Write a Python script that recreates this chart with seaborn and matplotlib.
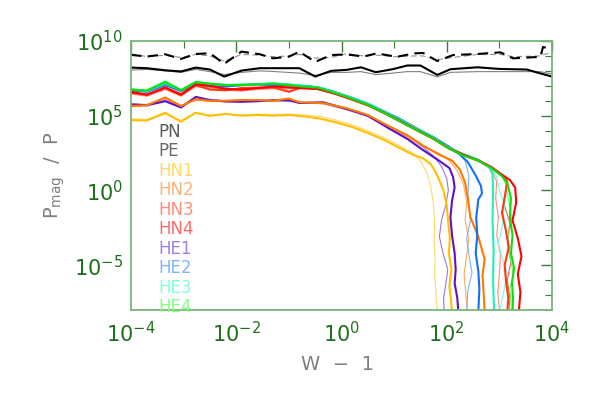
import numpy as np
import pandas as pd
import seaborn as sns
import matplotlib
matplotlib.use('Agg')
import matplotlib.pyplot as plt
from matplotlib.ticker import FixedLocator, LogFormatterMathtext, NullFormatter

# all values are log10(W - 1) and log10(Pmag / P)
w_left = [-4.0, -3.7, -3.35, -3.05, -2.77, -2.5, -2.2, -1.9, -1.6, -1.3, -1.0]
w_mid = [-0.75, -0.45, -0.15, 0.15, 0.5, 0.8, 1.1, 1.45, 1.75, 2.05]

# PN / PE (black and grey)
pn_w = [-4.0, -3.7, -3.35, -3.05, -2.77, -2.5, -2.23, -1.9, -1.55, -1.25, -0.8, -0.5, -0.2,
        0.1, 0.37, 0.65, 0.97, 1.25, 1.5, 1.82, 2.07, 2.58, 3.0, 3.52, 3.77, 4.0]
pn_thick = [8.22, 8.18, 8.04, 7.96, 8.22, 8.09, 7.62, 8.02, 8.18, 8.18, 8.18, 7.62, 8.0,
            8.07, 8.24, 7.91, 8.11, 8.36, 8.36, 7.73, 8.11, 8.24, 8.13, 8.09, 7.84, 7.62]
pn_thin = [8.05, 8.1, 8.0, 7.9, 8.1, 7.95, 7.75, 7.9, 8.0, 7.95, 7.85, 7.7, 7.9,
           7.9, 7.95, 7.75, 7.85, 7.95, 7.95, 7.6, 7.9, 7.95, 7.95, 7.95, 7.95, 7.8]
pe_w = [-4.0, -3.7, -3.35, -3.05, -2.77, -2.5, -2.23, -1.9, -1.55, -1.3, -1.0, -0.8, -0.5, -0.2,
        0.1, 0.42, 0.67, 1.05, 1.38, 1.55, 1.82, 2.12, 2.58, 3.02, 3.26, 3.78, 3.83, 4.0]
pe_thick = [9.07, 8.96, 9.11, 8.8, 9.13, 9.18, 8.47, 9.29, 9.11, 8.84, 8.95, 9.28, 8.6, 9.06,
            9.1, 8.96, 9.17, 8.94, 9.17, 9.2, 8.66, 9.06, 9.13, 9.24, 8.84, 8.94, 9.6, 9.45]
pe_thin = [9.15, 8.95, 9.05, 8.9, 9.1, 9.0, 8.65, 9.1, 9.05, 8.95, 9.0, 9.1, 8.85, 8.9,
           9.15, 9.0, 9.05, 8.95, 9.0, 9.0, 8.75, 8.9, 9.1, 9.1, 8.95, 9.0, 9.1, 9.2]

# HN1 (gold)
hn1_w = w_left + [-0.7, -0.4, -0.1, 0.2, 0.5, 0.8, 1.1, 1.35, 1.55, 1.7, 1.8, 1.88, 1.94,
                  2.0, 2.03, 2.06, 2.04, 2.09, 2.07, 2.05, 2.08, 2.1]
hn1_thick = [4.7, 4.68, 5.2, 4.6, 5.2, 4.98, 5.12, 5.0, 5.05, 5.0, 5.05,
             4.95, 4.8, 4.55, 4.25, 3.85, 3.4, 2.85, 2.4, 2.15, 1.75, 1.15, 0.5, 0.0,
             -1.0, -2.2, -3.2, -4.2, -5.3, -5.8, -6.4, -7.3, -8.1]
hn1t_w = w_left + [-0.7, -0.4, -0.1, 0.2, 0.5, 0.8, 1.1, 1.35, 1.5, 1.62, 1.7, 1.75, 1.77,
                   1.76, 1.78, 1.77, 1.79, 1.8, 1.83]
hn1_thin = [4.8, 4.75, 5.1, 4.7, 5.15, 5.05, 5.1, 5.05, 5.1, 5.08, 5.1,
            5.05, 4.95, 4.7, 4.4, 4.0, 3.55, 3.0, 2.5, 2.0, 1.2, 0.2, -1.0, -2.5,
            -3.5, -4.6, -5.6, -6.6, -7.4, -8.1]

# HN2 (orange)
hn2_w = w_left + [-0.8, -0.35, 0.1, 0.5, 0.9, 1.25, 1.55, 1.85, 2.1, 2.25, 2.35, 2.4, 2.45,
                  2.6, 2.72, 2.68, 2.7, 2.72]
hn2_thick = [5.65, 5.7, 6.22, 5.65, 6.1, 6.0, 6.0, 6.05, 6.05, 6.0, 6.15,
             5.9, 5.85, 5.5, 5.05, 4.3, 3.7, 3.0, 2.4, 2.0, 1.4, 0.5, -0.5, -1.8,
             -3.1, -4.6, -5.7, -6.8, -8.1]
hn2t_w = w_left + [-0.8, -0.35, 0.1, 0.5, 0.9, 1.25, 1.55, 1.85, 2.05, 2.2, 2.32, 2.38,
                   2.35, 2.42, 2.37, 2.33, 2.36, 2.39]
hn2_thin = [5.6, 5.65, 6.15, 5.6, 6.05, 5.95, 5.95, 6.0, 6.0, 5.95, 6.05,
            5.85, 5.8, 5.45, 5.0, 4.25, 3.6, 2.95, 2.5, 2.0, 1.3, 0.4, -0.8,
            -2.0, -3.3, -4.5, -5.6, -6.8, -8.1]

# HN3 (red-orange) and HN4 (red)
hn3_w = w_left + w_mid + [2.3, 2.6, 2.85, 3.05, 3.15, 3.1, 3.05, 3.12, 3.18, 3.1, 3.13, 3.17, 3.15]
hn3_thick = [6.55, 6.42, 6.85, 6.45, 7.05, 6.75, 6.7, 6.85, 6.88, 6.9, 6.6,
             6.9, 6.8, 6.5, 6.15, 5.7, 5.2, 4.65, 4.0, 3.45, 2.8,
             2.4, 2.0, 1.55, 1.0, 0.6, -0.5, -1.5, -2.6, -3.8, -5.0, -6.2, -7.2, -8.1]
hn3t_w = w_left + w_mid + [2.3, 2.6, 2.85, 2.95, 2.93, 2.98, 2.95, 3.02, 3.0, 2.97, 3.0]
hn3_thin = [6.45, 6.3, 6.75, 6.3, 6.95, 6.8, 6.7, 6.65, 6.75, 6.8, 6.8,
            6.85, 6.75, 6.45, 6.1, 5.65, 5.15, 4.6, 3.95, 3.4, 2.75,
            2.35, 1.95, 1.4, 0.6, -0.5, -1.8, -3.0, -4.3, -5.6, -6.8, -8.1]
hn4_w = w_left + w_mid + [2.3, 2.6, 2.85, 3.05, 3.2, 3.3, 3.32, 3.25, 3.35, 3.42, 3.35, 3.4, 3.37]
hn4_thick = [6.6, 6.4, 6.9, 6.4, 7.1, 7.0, 6.8, 6.75, 6.85, 6.95, 6.9,
             6.85, 6.8, 6.52, 6.18, 5.72, 5.22, 4.68, 4.02, 3.48, 2.8,
             2.4, 2.0, 1.55, 1.05, 0.7, 0.2, -0.8, -2.0, -3.2, -4.4, -5.6, -6.8, -8.1]
hn4t_w = w_left + w_mid + [2.3, 2.6, 2.85, 3.05, 3.15, 3.08, 3.2, 3.15, 3.22, 3.15, 3.2, 3.18]
hn4_thin = [6.5, 6.35, 6.8, 6.35, 7.0, 6.9, 6.75, 6.7, 6.8, 6.85, 6.85,
            6.8, 6.75, 6.5, 6.15, 5.7, 5.2, 4.65, 4.0, 3.45, 2.8,
            2.4, 2.0, 1.55, 1.0, 0.4, -0.8, -2.2, -3.5, -4.8, -6.0, -7.2, -8.1]

# HE1 (purple)
he1_w = w_left + [-0.8, -0.35, 0.1, 0.5, 0.9, 1.25, 1.55, 1.85, 2.05, 2.12, 2.15, 2.1, 2.07,
                  2.1, 2.15, 2.17, 2.15, 2.2, 2.22]
he1_thick = [5.75, 5.7, 5.97, 5.55, 6.26, 6.04, 5.95, 5.93, 5.97, 6.04, 6.05,
             5.85, 5.9, 5.45, 5.0, 4.15, 3.45, 2.7, 2.0, 1.5, 0.9, 0.2, -0.7, -1.8,
             -3.0, -4.2, -5.3, -6.2, -7.2, -8.1]
he1t_w = w_left + [-0.8, -0.35, 0.1, 0.5, 0.9, 1.25, 1.55, 1.75, 1.9, 2.0, 2.03, 1.98, 1.9,
                   1.86, 1.93, 2.02, 1.98, 1.94, 1.95]
he1_thin = [5.8, 5.75, 6.05, 5.6, 6.2, 6.1, 6.0, 6.0, 6.05, 6.0, 5.95,
            5.9, 5.8, 5.4, 4.95, 4.2, 3.6, 2.9, 2.3, 1.6, 0.8, 0.0, -1.0, -2.0,
            -3.1, -4.2, -5.3, -6.3, -7.2, -8.1]

# HE2 (blue)
he2_w = w_left + w_mid + [2.25, 2.4, 2.55, 2.65, 2.67, 2.6, 2.56, 2.58, 2.55, 2.6, 2.62, 2.6]
he2_thick = [6.7, 6.6, 7.05, 6.65, 7.1, 7.0, 6.95, 7.05, 7.1, 7.05, 7.05,
             7.0, 6.9, 6.6, 6.25, 5.8, 5.3, 4.8, 4.1, 3.55, 2.9,
             2.4, 1.9, 1.0, 0.3, -0.2, -0.6, -1.8, -3.0, -4.2, -5.4, -6.6, -8.1]
he2t_w = w_left + w_mid + [2.2, 2.35, 2.42, 2.4, 2.45, 2.38, 2.42, 2.48, 2.4, 2.38]
he2_thin = [6.72, 6.62, 7.1, 6.68, 7.12, 7.05, 7.0, 7.0, 7.05, 7.1, 7.0,
            7.02, 6.92, 6.62, 6.28, 5.82, 5.32, 4.82, 4.15, 3.6, 2.95,
            2.6, 2.0, 1.0, -0.5, -2.0, -3.2, -4.3, -5.5, -6.7, -8.1]

# HE3 (cyan)
he3_w = w_left + w_mid + [2.3, 2.6, 2.8, 2.87, 2.88, 2.87, 2.89, 2.88, 2.9]
he3_thick = [6.75, 6.65, 7.15, 6.72, 7.2, 7.1, 7.05, 7.1, 7.1, 7.15, 7.1,
             7.0, 6.9, 6.6, 6.25, 5.8, 5.3, 4.75, 4.1, 3.55, 2.85,
             2.45, 2.05, 1.6, 1.1, 0.0, -2.0, -4.0, -6.0, -8.1]
he3t_w = w_left + w_mid + [2.3, 2.6, 2.85, 2.95, 3.0, 3.1, 3.05, 2.98, 3.05, 3.15, 3.1, 3.05, 3.0]
he3_thin = [6.8, 6.7, 7.35, 6.75, 7.3, 7.15, 7.1, 7.05, 7.15, 7.2, 7.1,
            7.05, 6.95, 6.65, 6.3, 5.85, 5.35, 4.8, 4.15, 3.6, 2.9,
            2.5, 2.1, 1.55, 0.9, 0.0, -1.0, -2.5, -3.5, -4.5, -5.5, -6.5, -7.3, -8.1]

# HE4 (green)
he4_w = w_left + w_mid + [2.3, 2.6, 2.85, 3.05, 3.15, 3.22, 3.2, 3.25, 3.22, 3.28, 3.24, 3.26, 3.25]
he4_thick = [6.75, 6.68, 7.25, 6.7, 7.25, 7.15, 7.05, 7.05, 7.1, 7.15, 7.05,
             6.95, 6.88, 6.55, 6.2, 5.72, 5.2, 4.65, 4.0, 3.45, 2.8,
             2.35, 2.0, 1.5, 0.95, 0.5, -0.5, -1.8, -3.0, -4.2, -5.2, -6.2, -7.2, -8.1]
he4t_w = w_left + w_mid + [2.3, 2.6, 2.85, 3.05, 3.12, 3.18, 3.24, 3.16, 3.2, 3.26, 3.2, 3.22, 3.23]
he4_thin = [6.8, 6.7, 7.3, 6.75, 7.2, 7.1, 7.1, 7.0, 7.15, 7.1, 7.0,
            6.98, 6.9, 6.58, 6.22, 5.75, 5.25, 4.7, 4.05, 3.5, 2.82,
            2.38, 2.02, 1.52, 0.98, 0.4, -0.7, -2.0, -3.2, -4.4, -5.5, -6.6, -7.4, -8.1]

labels = ['PN', 'PE', 'HN1', 'HN2', 'HN3', 'HN4', 'HE1', 'HE2', 'HE3', 'HE4']
label_colors = ['#5a5a5a', '#6a6a6a', '#ffd966', '#ffb27a', '#ff8c7a', '#ff6a6a',
                '#a080e0', '#80b4ff', '#80ffd8', '#80ff80']

# (w, y, colour, linewidth, dashed) in drawing order
lines = [
    (pe_w, pe_thin, '#909090', 0.8, True),
    (pe_w, pe_thick, '#000000', 1.5, True),
    (pn_w, pn_thin, '#808080', 0.8, False),
    (pn_w, pn_thick, '#000000', 1.5, False),
    (hn1t_w, hn1_thin, '#ffd866', 0.8, False),
    (he1t_w, he1_thin, '#9a78e0', 0.8, False),
    (hn2t_w, hn2_thin, '#ffa860', 0.8, False),
    (he2t_w, he2_thin, '#78b4ff', 0.8, False),
    (hn3t_w, hn3_thin, '#ff9080', 0.8, False),
    (hn4t_w, hn4_thin, '#ff5a5a', 0.8, False),
    (he3t_w, he3_thin, '#70ffe0', 0.8, False),
    (he4t_w, he4_thin, '#66ff66', 0.8, False),
    (hn1_w, hn1_thick, '#ffbf00', 1.5, False),
    (he1_w, he1_thick, '#6010c8', 1.5, False),
    (hn2_w, hn2_thick, '#ff7800', 1.5, False),
    (he2_w, he2_thick, '#1070ff', 1.5, False),
    (he3_w, he3_thick, '#20f0b8', 1.5, False),
    (hn3_w, hn3_thick, '#ff3a10', 1.5, False),
    (hn4_w, hn4_thick, '#ff0000', 1.5, False),
    (he4_w, he4_thick, '#10dd10', 1.5, False),
]

sns.set_style('white')
plt.rcParams['font.family'] = ['DejaVu Sans']

fig = plt.figure(figsize=(5.91, 3.93), dpi=100)
ax = fig.add_axes([0.2217, 0.2112, 0.7123, 0.6845])

for w, y, col, lw, dashed in lines:
    df = pd.DataFrame({'w': np.power(10.0, w), 'p': np.power(10.0, y)})
    l = sns.lineplot(data=df, x='w', y='p', ax=ax, sort=False, estimator=None,
                     color=col, linewidth=lw)
    if dashed:
        l.get_lines()[-1].set_dashes((5, 3))

ax.set_xscale('log')
ax.set_yscale('log')
ax.set_xlim(1e-4, 1e4)
ax.set_ylim(1e-8, 1e10)

green = '#1e6e1e'
ax.xaxis.set_major_locator(FixedLocator([1e-4, 1e-2, 1e0, 1e2, 1e4]))
ax.xaxis.set_minor_locator(FixedLocator([1e-3, 1e-1, 1e1, 1e3]))
ax.yaxis.set_major_locator(FixedLocator([1e-5, 1e0, 1e5, 1e10]))
ax.yaxis.set_minor_locator(FixedLocator([10.0 ** k for k in range(-8, 10) if k % 5 != 0]))
ax.xaxis.set_major_formatter(LogFormatterMathtext())
ax.yaxis.set_major_formatter(LogFormatterMathtext())
ax.xaxis.set_minor_formatter(NullFormatter())
ax.yaxis.set_minor_formatter(NullFormatter())
ax.tick_params(which='both', direction='in', top=True, right=True, colors='#3a7a3a',
               labelcolor=green, labelsize=15)
ax.tick_params(which='major', length=8, width=1.0)
ax.tick_params(which='minor', length=5, width=0.8)
ax.tick_params(axis='x', pad=8)
ax.tick_params(axis='y', pad=6)
for s in ax.spines.values():
    s.set_color('#78b478')
    s.set_linewidth(1.3)

ax.set_xlabel('W  \u2212  1', color='#808080', fontsize=14)
ax.set_ylabel('P$_{\\mathrm{mag}}$  /  P', color='#808080', fontsize=14)
ax.xaxis.set_label_coords(0.49, -0.167)
ax.yaxis.set_label_coords(-0.152, 0.5)

for i, (lab, col) in enumerate(zip(labels, label_colors)):
    ax.text(0.064, 0.663 - i * 0.0725, lab, color=col, fontsize=12,
            transform=ax.transAxes, va='center', ha='left')

fig.savefig('out.png', dpi=100)
